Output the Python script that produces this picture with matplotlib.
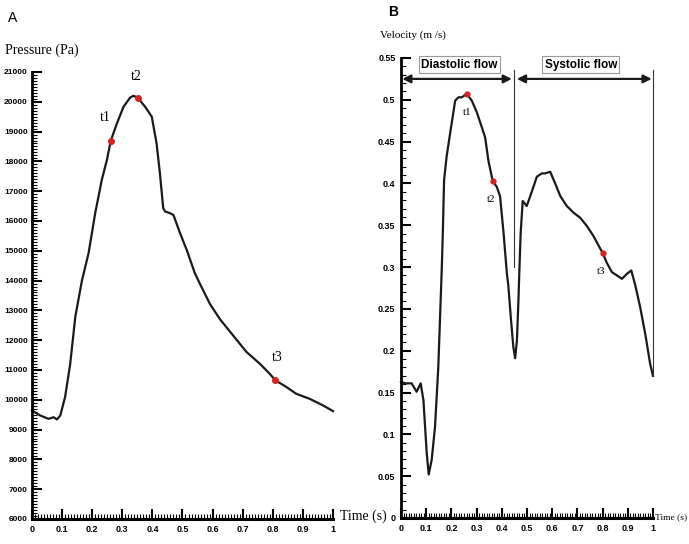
import numpy as np
import matplotlib.pyplot as plt
from matplotlib.ticker import MultipleLocator

plt.rcParams['font.family'] = ['Liberation Sans', 'DejaVu Sans']

# 压力曲线 (A)
t_p = [0.0, 0.028, 0.055, 0.072, 0.083, 0.094, 0.11, 0.127, 0.144, 0.166, 0.188, 0.21,
       0.232, 0.249, 0.262, 0.282, 0.304, 0.326, 0.337, 0.351, 0.376, 0.398, 0.414, 0.425,
       0.436, 0.442, 0.459, 0.47, 0.492, 0.514, 0.541, 0.558, 0.591, 0.624, 0.668, 0.713,
       0.757, 0.79, 0.809, 0.845, 0.878, 0.923, 0.967, 1.0]
pressure = [9640, 9470, 9360, 9415, 9340, 9470, 10090, 11200, 12790, 14000, 14920, 16260,
            17380, 18050, 18700, 19270, 19830, 20140, 20200, 20140, 19830, 19500, 18600, 17600,
            16430, 16320, 16260, 16200, 15590, 15030, 14250, 13890, 13220, 12710, 12160, 11600,
            11210, 10870, 10650, 10430, 10200, 10030, 9810, 9620]
marks_p_t = [0.262, 0.351, 0.809]
marks_p = [18700, 20140, 10650]
marks_p_lab = ['t1', 't2', 't3']

# 速度曲线 (B)
t_v = [0.0, 0.016, 0.042, 0.062, 0.078, 0.089, 0.102, 0.11, 0.122, 0.135, 0.148, 0.162,
       0.166, 0.171, 0.181, 0.195, 0.215, 0.228, 0.241, 0.261, 0.281, 0.301, 0.321, 0.334,
       0.347, 0.364, 0.38, 0.393, 0.407, 0.42, 0.426, 0.436, 0.446, 0.453, 0.46, 0.466,
       0.47, 0.475, 0.483, 0.499, 0.519, 0.539, 0.559, 0.572, 0.592, 0.612, 0.632, 0.658,
       0.685, 0.711, 0.738, 0.764, 0.8, 0.817, 0.837, 0.857, 0.877, 0.897, 0.914, 0.93,
       0.95, 0.97, 0.989, 1.0]
velocity = [0.163, 0.161, 0.161, 0.151, 0.161, 0.141, 0.078, 0.052, 0.07, 0.109, 0.18, 0.3,
            0.341, 0.404, 0.432, 0.46, 0.499, 0.503, 0.503, 0.507, 0.499, 0.485, 0.467, 0.455,
            0.427, 0.403, 0.396, 0.385, 0.341, 0.293, 0.278, 0.239, 0.204, 0.191, 0.212, 0.259,
            0.298, 0.341, 0.379, 0.373, 0.39, 0.408, 0.412, 0.412, 0.414, 0.4, 0.385, 0.373,
            0.365, 0.359, 0.349, 0.337, 0.317, 0.305, 0.294, 0.29, 0.286, 0.292, 0.296, 0.278,
            0.251, 0.219, 0.184, 0.17]
marks_v_t = [0.261, 0.364, 0.8]
marks_v = [0.507, 0.403, 0.317]
marks_v_lab = ['t1', 't2', 't3']

serif = ['Liberation Serif', 'DejaVu Serif']
x_labels = ['0', '0.1', '0.2', '0.3', '0.4', '0.5', '0.6', '0.7', '0.8', '0.9', '1']

fig = plt.figure(figsize=(6.89, 5.44), dpi=100)
ax1 = fig.add_axes([0.0464, 0.046, 0.4369, 0.8217])
ax2 = fig.add_axes([0.582, 0.0478, 0.3657, 0.8456])


def style_axis(ax):
    for s in ['top', 'right']:
        ax.spines[s].set_visible(False)
    ax.spines['left'].set_linewidth(2)
    ax.spines['bottom'].set_linewidth(2.2)
    ax.tick_params(which='major', direction='in', length=7, width=1.5, labelsize=6.5, pad=4)
    ax.tick_params(which='minor', direction='in', length=3.5, width=0.8)
    ax.set_xlim(0, 1)
    ax.set_xticks(np.arange(0, 1.01, 0.1))
    ax.set_xticklabels(x_labels, fontweight='bold')
    ax.xaxis.set_minor_locator(MultipleLocator(0.01))


# A
ax1.plot(t_p, pressure, color='#1a1a1a', lw=1.6, clip_on=False)
ax1.plot(marks_p_t, marks_p, 'o', color='#d42020', ms=4, zorder=3)
ax1.set_ylim(6000, 21000)
style_axis(ax1)
ax1.set_yticks(np.arange(6000, 21001, 1000))
ax1.set_yticklabels([str(v) for v in range(6000, 21001, 1000)], fontweight='bold')
ax1.yaxis.set_minor_locator(MultipleLocator(100))
ax1.tick_params(axis='y', labelsize=6, pad=3)
offs_p = [(-0.02, 550), (-0.005, 500), (0.005, 550)]
for x, y, s, (dx, dy) in zip(marks_p_t, marks_p, marks_p_lab, offs_p):
    ax1.text(x + dx, y + dy, s, family=serif, fontsize=10, ha='center', va='bottom')
fig.text(5 / 689, 1 - 50 / 544, 'Pressure (Pa)', family=serif, fontsize=10, va='center')
fig.text(340 / 689, 1 - 516 / 544, 'Time (s)', family=serif, fontsize=10, va='center')
fig.text(8 / 689, 1 - 18 / 544, 'A', fontsize=10, va='center')

# B
ax2.plot(t_v, velocity, color='#1a1a1a', lw=1.6, clip_on=False)
ax2.plot(marks_v_t, marks_v, 'o', color='#d42020', ms=3.5, zorder=3)
ax2.set_ylim(0, 0.55)
style_axis(ax2)
ax2.set_yticks(np.arange(0, 0.551, 0.05))
ax2.set_yticklabels(['0', '0.05', '0.1', '0.15', '0.2', '0.25', '0.3', '0.35', '0.4', '0.45',
                     '0.5', '0.55'], fontweight='bold')
ax2.yaxis.set_minor_locator(MultipleLocator(0.01))
offs_v = [(0.0, -0.022), (-0.005, -0.022), (-0.005, -0.022)]
for x, y, s, (dx, dy) in zip(marks_v_t, marks_v, marks_v_lab, offs_v):
    ax2.text(x + dx, y + dy, s, family=serif, fontsize=8, ha='center', va='center')

# 舒张期/收缩期 标注
ax2.plot([0.449, 0.449], [0.536, 0.3], color='#333333', lw=0.8)
ax2.plot([1.0, 1.0], [0.536, 0.17], color='#333333', lw=0.8, clip_on=False)
arr = dict(arrowstyle='<|-|>', color='#1a1a1a', lw=1.6, mutation_scale=12, shrinkA=0, shrinkB=0)
ax2.annotate('', xy=(0.005, 0.525), xytext=(0.44, 0.525), arrowprops=arr)
ax2.annotate('', xy=(0.46, 0.525), xytext=(0.995, 0.525), arrowprops=arr)
box = dict(boxstyle='square,pad=0.2', fc='white', ec='#999999', lw=0.8)
ax2.text(0.232, 0.542, 'Diastolic flow', ha='center', va='center', fontsize=8.5,
         fontweight='bold', bbox=box)
ax2.text(0.714, 0.542, 'Systolic flow', ha='center', va='center', fontsize=8.5,
         fontweight='bold', bbox=box)
fig.text(380 / 689, 1 - 35 / 544, 'Velocity (m /s)', family=serif, fontsize=8, va='center')
fig.text(655 / 689, 1 - 517 / 544, 'Time (s)', family=serif, fontsize=6.8, va='center')
fig.text(388 / 689, 1 - 12 / 544, 'B', fontsize=10, va='center', fontweight='bold')

fig.savefig('out.png', dpi=100)
